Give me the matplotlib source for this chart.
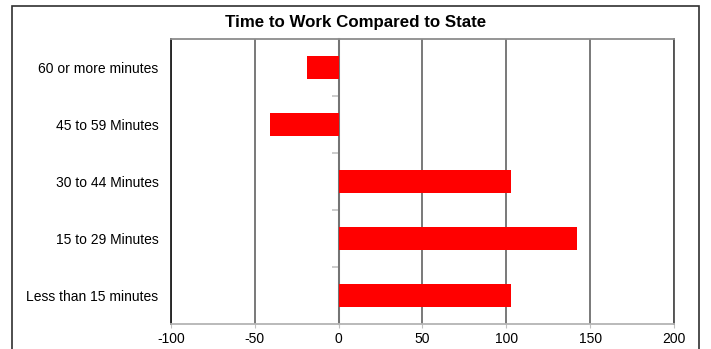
import matplotlib
matplotlib.use("Agg")
import matplotlib.pyplot as plt
from matplotlib.patches import Rectangle

categories = ["60 or more minutes", "45 to 59 Minutes", "30 to 44 Minutes",
              "15 to 29 Minutes", "Less than 15 minutes"]
values = [-19, -41, 103, 142, 103]
x_ticks = [-100, -50, 0, 50, 100, 150, 200]
title = "Time to Work Compared to State"

plt.rcParams['font.family'] = ['Liberation Sans', 'DejaVu Sans']

fig = plt.figure(figsize=(7.11, 3.49), dpi=100)
fig.patch.set_facecolor('white')
ax = fig.add_axes([171/711, 1-324/349, (674-171)/711, (324-39)/349])

n = len(categories)
ypos = list(range(n))
ax.barh(ypos, values, height=0.4, color='#ff0000', zorder=3)
ax.set_ylim(n - 0.5, -0.5)
ax.set_xlim(x_ticks[0], x_ticks[-1])
ax.set_xticks(x_ticks)
ax.set_xticklabels([str(t) for t in x_ticks], fontsize=10)
ax.set_yticks(ypos)
ax.set_yticklabels(categories, fontsize=10)
ax.tick_params(axis='y', length=0, pad=9)
ax.tick_params(axis='x', length=3, color='#c0c0c0', pad=3, direction='out')

ax.set_axisbelow(True)
ax.xaxis.grid(True, color='#6e6e6e', linewidth=1.3)

ax.spines['left'].set_color('#202020')
ax.spines['left'].set_linewidth(1.3)
ax.spines['right'].set_color('#505050')
ax.spines['right'].set_linewidth(1.3)
ax.spines['top'].set_color('#8c8c8c')
ax.spines['top'].set_linewidth(1.3)
ax.spines['bottom'].set_color('#b4b4b4')
ax.spines['bottom'].set_linewidth(1.3)

# zero axis with category-boundary ticks
sec = ax.secondary_yaxis(0, transform=ax.transData)
sec.set_yticks([i + 0.5 for i in range(n - 1)])
sec.set_yticklabels([])
sec.tick_params(length=5, color='#c8c8c8', width=1.3)
sec.spines['left'].set_color('#b0b0b0')
sec.spines['left'].set_linewidth(1.5)

fig.text(356/711, 1-23/349, title, ha='center', va='center',
         fontsize=12.2, fontweight='bold')

# outer frame of the chart
fig.patches.append(Rectangle((12/711, -0.2), (699-12)/711, 1.2 - 6/349,
                             transform=fig.transFigure, fill=False,
                             edgecolor='#303030', linewidth=1.2))

fig.savefig("out.png", dpi=100)
